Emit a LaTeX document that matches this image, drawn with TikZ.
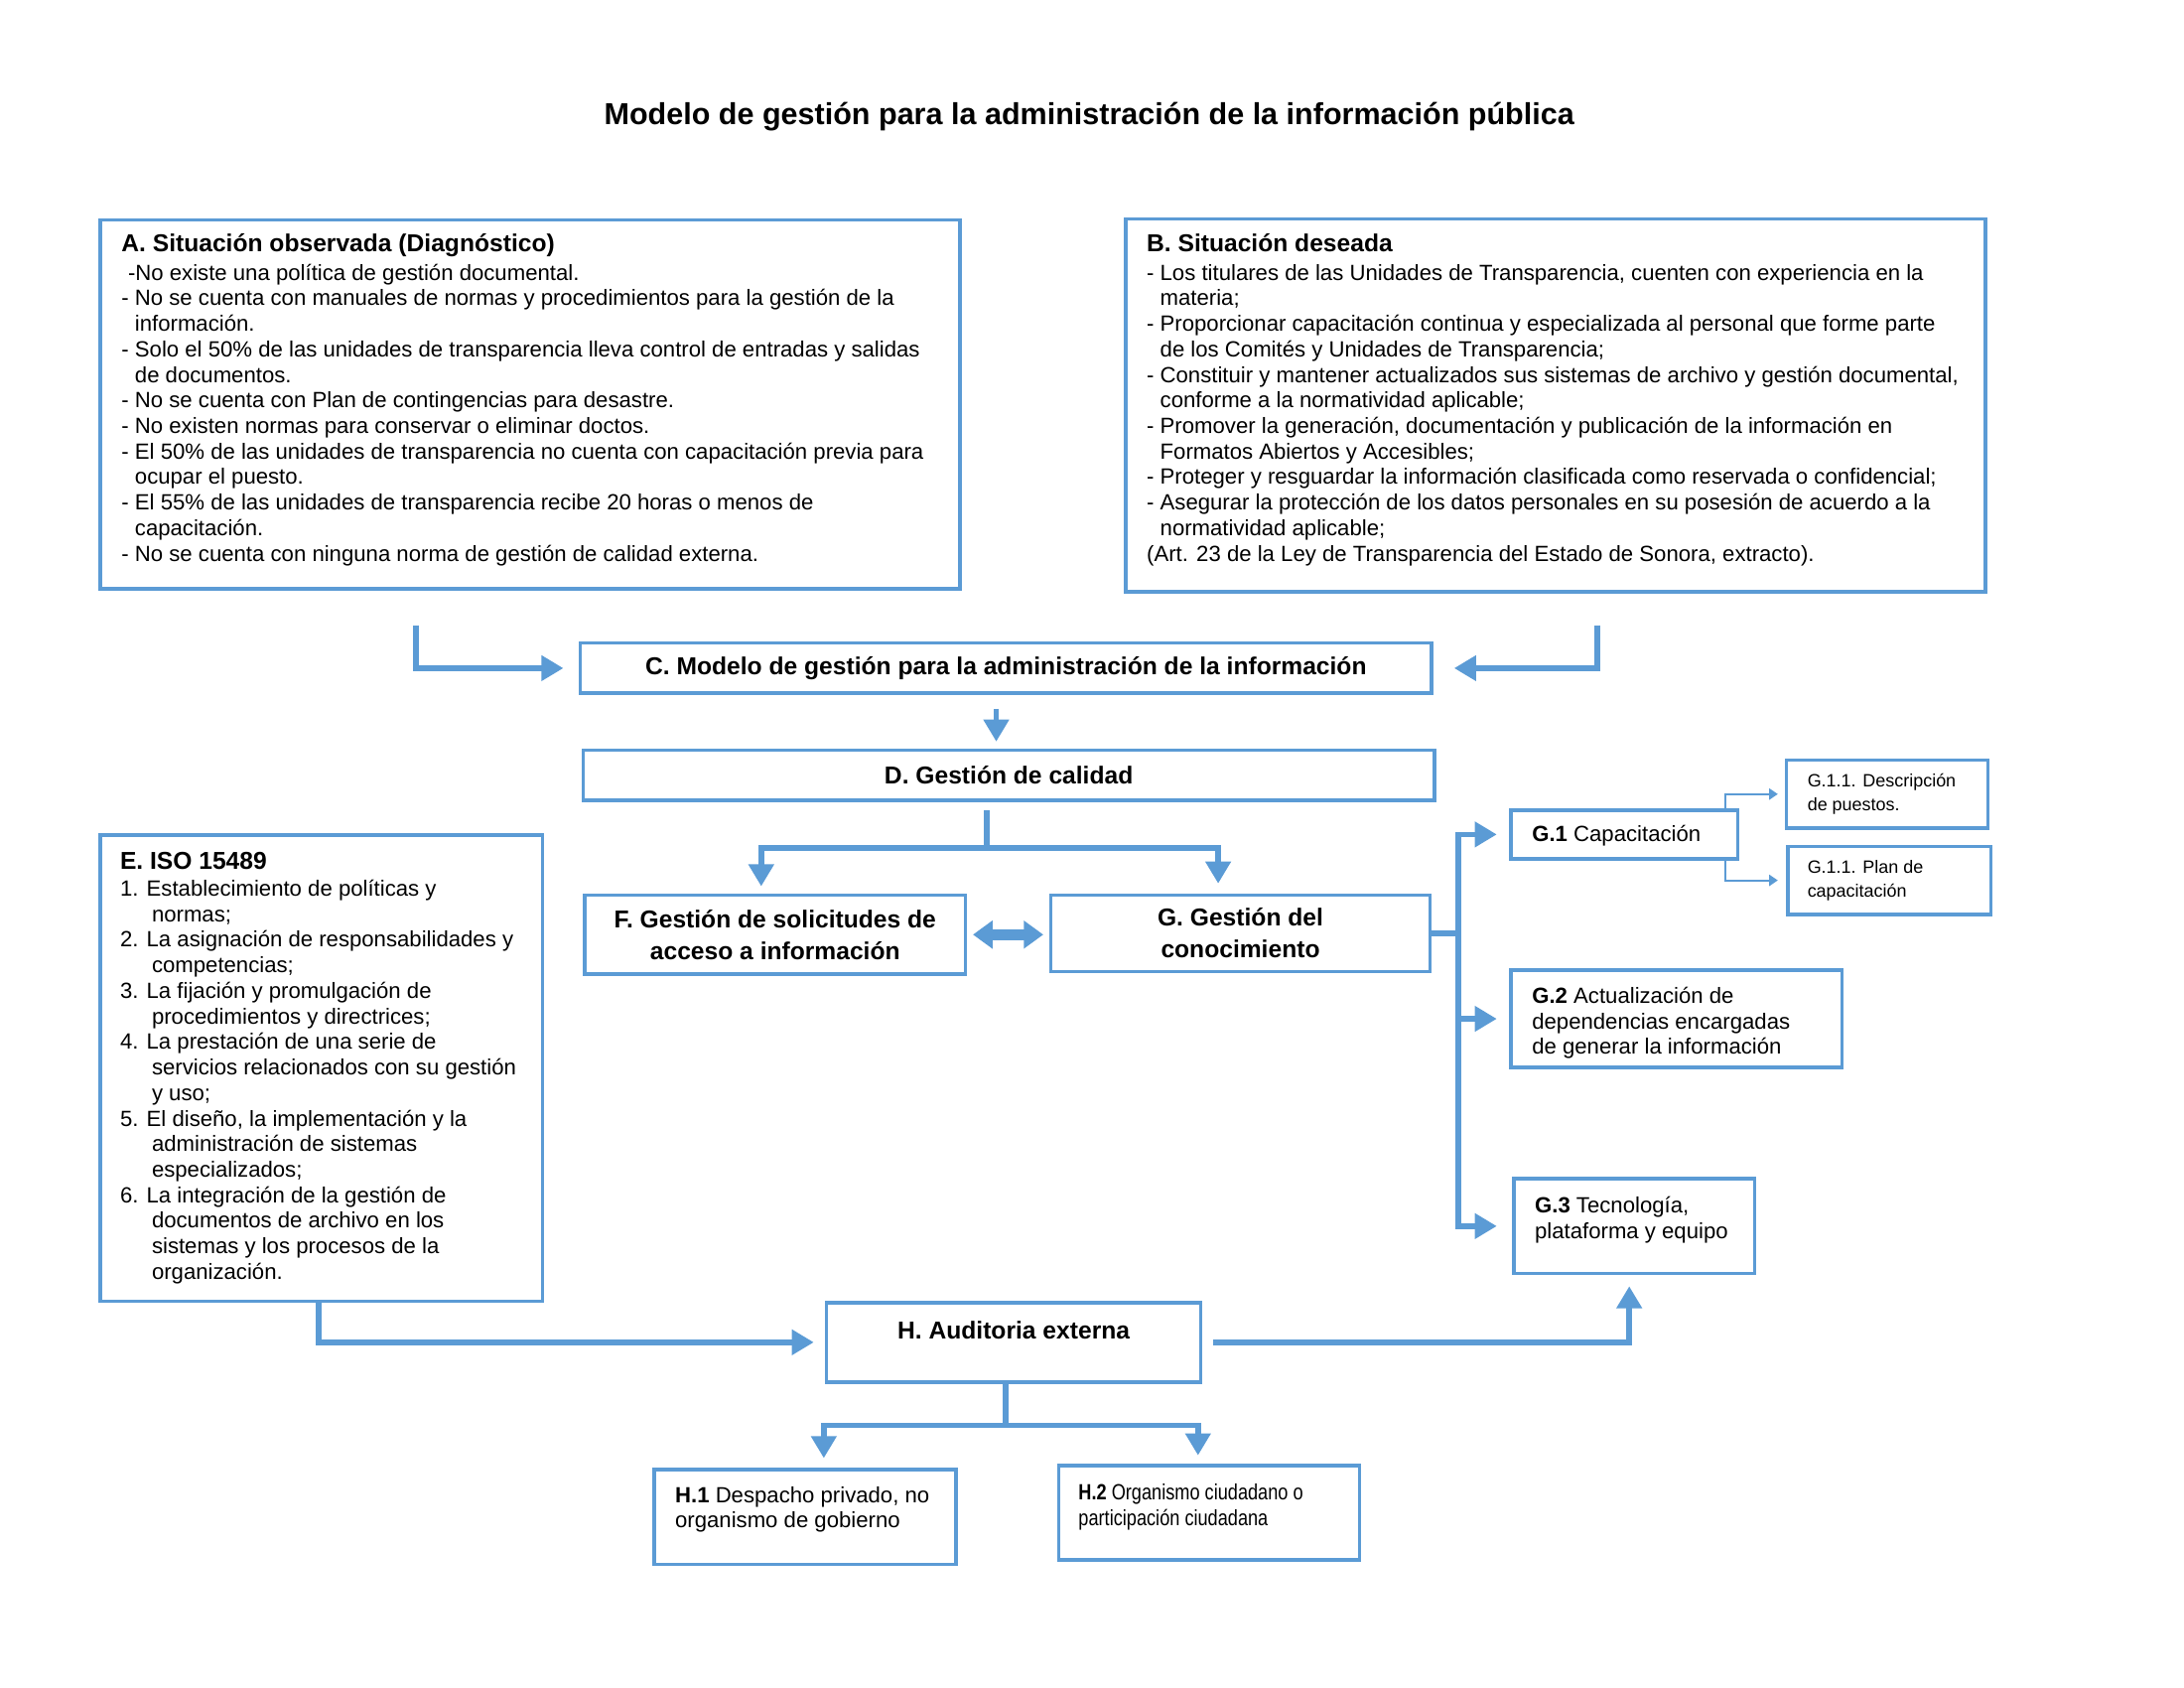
\documentclass[tikz,border=0pt]{standalone}
\usepackage{fontspec}
\setmainfont{Liberation Sans}
\usetikzlibrary{arrows.meta}
\definecolor{azul}{RGB}{91,155,213}
\newcommand{\encabezado}[1]{{\fontsize{10}{12}\selectfont\bfseries #1}}
\newcommand{\sangria}{\hphantom{-~}}
\newcommand{\sangrianum}{\hspace*{13pt}}

\begin{document}
\begin{tikzpicture}[x=0.02cm,y=-0.02cm,
    caja/.style={draw=azul,line width=1.4pt,anchor=north west,inner sep=0pt},
    centro/.style={caja,align=center,font=\fontsize{10}{13}\selectfont\bfseries},
    texto/.style={anchor=north west,align=left,inner sep=0pt,font=\fontsize{9}{10.45}\selectfont},
    chico/.style={texto,font=\fontsize{7.3}{9.7}\selectfont},
    flecha/.style={draw=azul,line width=2.3pt,-{Triangle[length=9pt,width=10pt]}},
    barra/.style={draw=azul,line width=2.3pt},
    fina/.style={draw=azul,line width=0.9pt,-{Triangle[length=3.5pt,width=4.5pt]}},
    doble/.style={draw=azul,line width=4.5pt,{Triangle[length=8pt,width=11pt]}-{Triangle[length=8pt,width=11pt]}}]

    \useasboundingbox (0,0) rectangle (1570,1213);

    % --------------------------------------------------------- %
    % ------------- title
    % --------------------------------------------------------- %
    \node[font=\fontsize{12.4}{15}\selectfont\bfseries] (titulo) at (783,84) {Modelo de gestión para la administración de la información pública};

    % --------------------------------------------------------- %
    % ------------- A and B (situations)
    % --------------------------------------------------------- %
    \node[caja,minimum width=12.36cm,minimum height=5.3cm] (A) at (71,157) {};
    \node[texto] (A-texto) at ([shift={(16,11)}]A.north west) {\encabezado{A. Situación observada (Diagnóstico)}\\[1pt]
      \hspace*{0.3em}-No existe una política de gestión documental.\\
      - No se cuenta con manuales de normas y procedimientos para la gestión de la\\
      \sangria información.\\
      - Solo el 50\% de las unidades de transparencia lleva control de entradas y salidas\\
      \sangria de documentos.\\
      - No se cuenta con Plan de contingencias para desastre.\\
      - No existen normas para conservar o eliminar doctos.\\
      - El 50\% de las unidades de transparencia no cuenta con capacitación previa para\\
      \sangria ocupar el puesto.\\
      - El 55\% de las unidades de transparencia recibe 20 horas o menos de\\
      \sangria capacitación.\\
      - No se cuenta con ninguna norma de gestión de calidad externa.};

    \node[caja,minimum width=12.36cm,minimum height=5.36cm] (B) at (808,156) {};
    \node[texto] (B-texto) at ([shift={(16,12)}]B.north west) {\encabezado{B. Situación deseada}\\[1pt]
      - Los titulares de las Unidades de Transparencia, cuenten con experiencia en la\\
      \sangria materia;\\
      - Proporcionar capacitación continua y especializada al personal que forme parte\\
      \sangria de los Comités y Unidades de Transparencia;\\
      - Constituir y mantener actualizados sus sistemas de archivo y gestión documental,\\
      \sangria conforme a la normatividad aplicable;\\
      - Promover la generación, documentación y publicación de la información en\\
      \sangria Formatos Abiertos y Accesibles;\\
      - Proteger y resguardar la información clasificada como reservada o confidencial;\\
      - Asegurar la protección de los datos personales en su posesión de acuerdo a la\\
      \sangria normatividad aplicable;\\
      (Art. 23 de la Ley de Transparencia del Estado de Sonora, extracto).};

    % --------------------------------------------------------- %
    % ------------- C, D, F, G
    % --------------------------------------------------------- %
    \node[centro,minimum width=12.24cm,minimum height=0.72cm] (C) at (416,461) {C. Modelo de gestión para la administración de la información};
    \node[centro,minimum width=12.24cm,minimum height=0.72cm] (D) at (418,538) {D. Gestión de calidad};
    \node[centro,minimum width=5.48cm,minimum height=1.14cm] (F) at (419,642) {F. Gestión de solicitudes de\\acceso a información};
    \node[centro,minimum width=5.46cm,minimum height=1.1cm] (G) at (754,642) {G. Gestión del\\conocimiento};

    % --------------------------------------------------------- %
    % ------------- G.1, G.2, G.3
    % --------------------------------------------------------- %
    \node[caja,minimum width=3.26cm,minimum height=0.7cm] (G1) at (1085,581) {};
    \node[texto] (G1-texto) at ([shift={(16,12)}]G1.north west) {\textbf{G.1} Capacitación};
    \node[caja,minimum width=2.9cm,minimum height=0.98cm] (G11a) at (1283,545) {};
    \node[chico] (G11a-texto) at ([shift={(16,11)}]G11a.north west) {G.1.1. Descripción\\de puestos.};
    \node[caja,minimum width=2.92cm,minimum height=0.98cm] (G11b) at (1284,607) {};
    \node[chico] (G11b-texto) at ([shift={(15,11)}]G11b.north west) {G.1.1. Plan de\\capacitación};
    \node[caja,minimum width=4.76cm,minimum height=1.4cm] (G2) at (1085,696) {};
    \node[texto] (G2-texto) at ([shift={(16,13)}]G2.north west) {\textbf{G.2} Actualización de\\dependencias encargadas\\de generar la información};
    \node[caja,minimum width=3.46cm,minimum height=1.36cm] (G3) at (1087,846) {};
    \node[texto] (G3-texto) at ([shift={(16,14)}]G3.north west) {\textbf{G.3} Tecnología,\\plataforma y equipo};

    % --------------------------------------------------------- %
    % ------------- E (ISO) and H (audit)
    % --------------------------------------------------------- %
    \node[caja,minimum width=6.36cm,minimum height=6.7cm] (E) at (71,599) {};
    \node[texto] (E-texto) at ([shift={(15,13)}]E.north west) {\encabezado{E. ISO 15489}\\[0.6pt]
      1. Establecimiento de políticas y\\
      \sangrianum normas;\\
      2. La asignación de responsabilidades y\\
      \sangrianum competencias;\\
      3. La fijación y promulgación de\\
      \sangrianum procedimientos y directrices;\\
      4. La prestación de una serie de\\
      \sangrianum servicios relacionados con su gestión\\
      \sangrianum y uso;\\
      5. El diseño, la implementación y la\\
      \sangrianum administración de sistemas\\
      \sangrianum especializados;\\
      6. La integración de la gestión de\\
      \sangrianum documentos de archivo en los\\
      \sangrianum sistemas y los procesos de la\\
      \sangrianum organización.};

    \node[caja,minimum width=5.38cm,minimum height=1.14cm] (H) at (593,935) {};
    \node[anchor=north,inner sep=0pt,font=\fontsize{10}{12}\selectfont\bfseries] (H-texto) at ([shift={(0,14)}]H.north) {H. Auditoria externa};
    \node[caja,minimum width=4.34cm,minimum height=1.36cm] (H1) at (469,1055) {};
    \node[texto] (H1-texto) at ([shift={(16,13)}]H1.north west) {\textbf{H.1} Despacho privado, no\\organismo de gobierno};
    \node[caja,minimum width=4.32cm,minimum height=1.36cm] (H2) at (760,1052) {};
    \node[texto] (H2-texto) at ([shift={(15,14)}]H2.north west) {\scalebox{0.82}[1]{\textbf{H.2} Organismo ciudadano o}\\\scalebox{0.82}[1]{participación ciudadana}};

    % --------------------------------------------------------- %
    % ------------- connectors
    % --------------------------------------------------------- %
    \draw[flecha] ([shift={(-82,25)}]A.south) |- ([shift={(-11,0)}]C.west);
    \draw[flecha] ([shift={(30,23)}]B.south) |- ([shift={(15,0)}]C.east);
    \draw[flecha] ([shift={(-7,10)}]C.south) -- ([shift={(-9,-5)}]D.north);

    \coordinate (D-rama) at ([shift={(-16,33)}]D.south);
    \draw[flecha] ([shift={(-16,6)}]D.south) -- (D-rama) -| ([shift={(-10,-5)}]F.north);
    \draw[flecha] (D-rama) -| ([shift={(-16,-7)}]G.north);
    \draw[doble] ([shift={(4,0)}]F.east) -- ([shift={(-4,0)}]F.east -| G.west);

    \coordinate (G-eje) at ([shift={(19,0)}]G.east);
    \draw[barra] (G.east) -- (G-eje);
    \draw[flecha] (G-eje) |- ([shift={(-9,0)}]G1.west);
    \draw[flecha] (G-eje) |- ([shift={(-9,0)}]G2.west);
    \draw[flecha] (G-eje) |- ([shift={(-11,0)}]G3.west);
    \draw[fina] ([shift={(-10,0)}]G1.north east) |- ([shift={(-5,0)}]G11a.west);
    \draw[fina] ([shift={(-10,0)}]G1.south east) |- ([shift={(-6,0)}]G11b.west);

    \draw[flecha] ([shift={(-2,0)}]E.south) |- ([shift={(-8,0)}]H.west);
    \draw[flecha] ([shift={(8,0)}]H.east) -| ([shift={(-3.5,8)}]G3.south);

    \coordinate (H-rama) at ([shift={(-6,30)}]H.south);
    \draw[flecha] ([shift={(-6,0)}]H.south) -- (H-rama) -| ([shift={(13.5,-7)}]H1.north);
    \draw[flecha] (H-rama) -| ([shift={(-8,-6)}]H2.north);

\end{tikzpicture}
\end{document}
